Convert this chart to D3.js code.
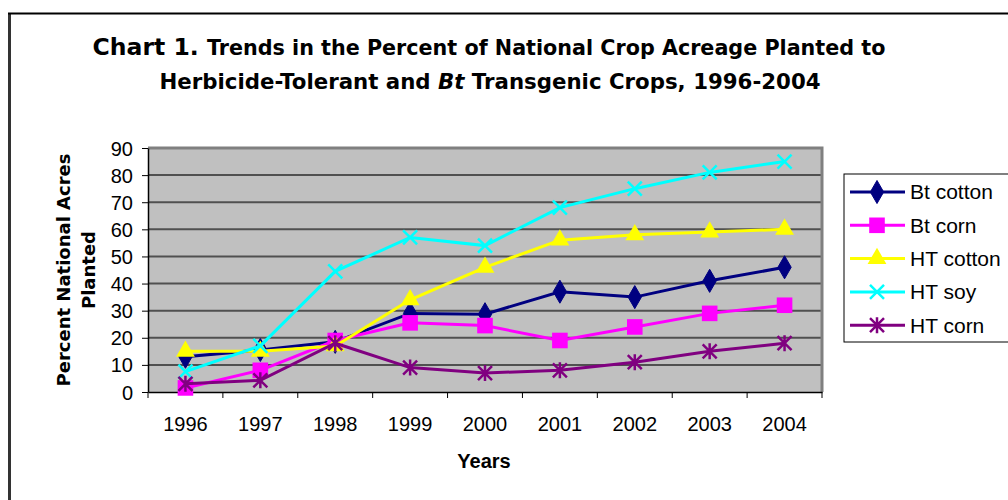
<!DOCTYPE html>
<html><head><meta charset="utf-8">
<script src="https://cdn.jsdelivr.net/npm/d3@7"></script>
<style>body{margin:0;background:#fff}svg{display:block}text{font-family:Arial,"Liberation Sans",sans-serif}</style>
</head><body>
<svg id="c" width="1008" height="500"></svg>
<script>
const years = ["1996","1997","1998","1999","2000","2001","2002","2003","2004"];
const yTicks = [0,10,20,30,40,50,60,70,80,90];
const btCotton = [13,15.5,18.5,29,28.7,37,35,41,46];
const btCorn   = [1.5,8,19,25.5,24.5,19,24,29,32];
const htCotton = [15,15,17,34,46,56,58,59,60];
const htSoy    = [7.5,17,44.5,57,54,68,75,81,85];
const htCorn   = [3,4.3,18,9,7,8,11,15,18];
const seriesNames = ["Bt cotton","Bt corn","HT cotton","HT soy","HT corn"];
const seriesValues = [btCotton, btCorn, htCotton, htSoy, htCorn];
const seriesColors = ["#000080","#FF00FF","#FFFF00","#00FFFF","#800080"];
const seriesMarkers = ["diamond","square","triangle","x","star"];

const svg = d3.select("#c");
const L=148,R=822,T=148,B=392;
const x = d3.scaleBand().domain(years).range([L,R]).padding(0);
const y = d3.scaleLinear().domain([0,90]).range([B,T]);
const wide = "'DejaVu Sans',Verdana,sans-serif";

// outer frame
svg.append("line").attr("x1",9.5).attr("x2",9.5).attr("y1",13).attr("y2",500).attr("stroke","#333").attr("stroke-width",3);
svg.append("line").attr("x1",8).attr("x2",1008).attr("y1",13.5).attr("y2",13.5).attr("stroke","#000").attr("stroke-width",2);

// title
const t1 = svg.append("text").attr("x",489).attr("y",55).attr("text-anchor","middle").attr("font-weight","bold").style("font-family",wide);
t1.append("tspan").attr("font-size",23.5).text("Chart 1. ");
t1.append("tspan").attr("font-size",20.7).text("Trends in the Percent of National Crop Acreage Planted to");
const t2 = svg.append("text").attr("x",490).attr("y",89).attr("text-anchor","middle").attr("font-weight","bold").attr("font-size",21.3).style("font-family",wide);
t2.append("tspan").text("Herbicide-Tolerant and ");
t2.append("tspan").attr("font-style","italic").text("Bt");
t2.append("tspan").text(" Transgenic Crops, 1996-2004");

// plot bg
svg.append("rect").attr("x",L).attr("y",T).attr("width",R-L).attr("height",B-T).attr("fill","#C0C0C0");
// gridlines
svg.append("g").selectAll("line").data(yTicks.filter(d=>d>0&&d<90)).join("line")
  .attr("x1",L).attr("x2",R).attr("y1",d=>y(d)).attr("y2",d=>y(d))
  .attr("stroke","#505050").attr("stroke-width",2);
// top & right border
svg.append("path").attr("d",`M${L},${T}H${R}V${B}`).attr("fill","none").attr("stroke","#808080").attr("stroke-width",3);

// y axis
const ya = svg.append("g").attr("transform",`translate(${L},0)`)
  .call(d3.axisLeft(y).tickValues(yTicks).tickSize(6).tickSizeOuter(0));
ya.select(".domain").attr("stroke","#000").attr("stroke-width",1.5);
ya.selectAll(".tick line").attr("stroke","#000");
ya.selectAll("text").attr("font-size",20).attr("fill","#000").attr("x",-15).attr("dy","0.35em");

// x axis
const xa = svg.append("g").attr("transform",`translate(0,${B})`)
  .call(d3.axisBottom(x).tickSize(0).tickSizeOuter(0));
xa.select(".domain").attr("stroke","#000").attr("stroke-width",1.5);
xa.selectAll("text").attr("font-size",20).attr("fill","#000").attr("dy","0").attr("y",39);
svg.append("g").selectAll("line").data(years.map(d=>x(d)).concat([R])).join("line")
  .attr("x1",d=>d).attr("x2",d=>d).attr("y1",B).attr("y2",B+6).attr("stroke","#000");

// axis titles
svg.append("text").attr("x",484).attr("y",468).attr("text-anchor","middle").attr("font-weight","bold").attr("font-size",20).text("Years");
const yt = svg.append("text").attr("transform","translate(70,270) rotate(-90)").attr("text-anchor","middle").attr("font-weight","bold").attr("font-size",18).style("font-family",wide);
yt.append("tspan").attr("x",0).attr("dy",0).text("Percent National Acres");
yt.append("tspan").attr("x",0).attr("dy",25).text("Planted");

function marker(g,type,color,s){
  if(type==="diamond") g.append("path").attr("d",d3.symbol(d3.symbolDiamond,s*s*0.6)()).attr("fill",color).attr("stroke",color);
  else if(type==="square") g.append("path").attr("d",d3.symbol(d3.symbolSquare,s*s*0.95)()).attr("fill",color);
  else if(type==="triangle") g.append("path").attr("d",d3.symbol(d3.symbolTriangle,s*s*0.6)()).attr("fill",color);
  else if(type==="x"){const h=s/2-1;g.append("path").attr("d",`M${-h},${-h}L${h},${h}M${-h},${h}L${h},${-h}`).attr("stroke",color).attr("stroke-width",2.5);}
  else if(type==="star"){const h=s/2-1;g.append("path").attr("d",`M${-h},${-h}L${h},${h}M${-h},${h}L${h},${-h}M0,${-h-1}V${h+1}`).attr("stroke",color).attr("stroke-width",2.5);}
}

const line = d3.line().x((d,i)=>x(years[i])+x.bandwidth()/2).y(d=>y(d));
seriesValues.forEach((vals,k)=>{
  const g = svg.append("g");
  g.append("path").datum(vals).attr("d",line).attr("fill","none").attr("stroke",seriesColors[k]).attr("stroke-width",3);
  vals.forEach((v,i)=>{
    const m = g.append("g").attr("transform",`translate(${x(years[i])+x.bandwidth()/2},${y(v)})`);
    marker(m,seriesMarkers[k],seriesColors[k],16);
  });
});

// legend
svg.append("rect").attr("x",844).attr("y",174).attr("width",170).attr("height",168).attr("fill","#fff").attr("stroke","#000").attr("stroke-width",1);
seriesNames.forEach((n,k)=>{
  const cy = 192 + k*33.3;
  const g = svg.append("g");
  g.append("line").attr("x1",850).attr("x2",905).attr("y1",cy).attr("y2",cy).attr("stroke",seriesColors[k]).attr("stroke-width",3);
  const m = g.append("g").attr("transform",`translate(877,${cy})`);
  marker(m,seriesMarkers[k],seriesColors[k],16);
  g.append("text").attr("x",910).attr("y",cy).attr("dy","0.35em").attr("font-size",21).text(n);
});
</script>
</body></html>
